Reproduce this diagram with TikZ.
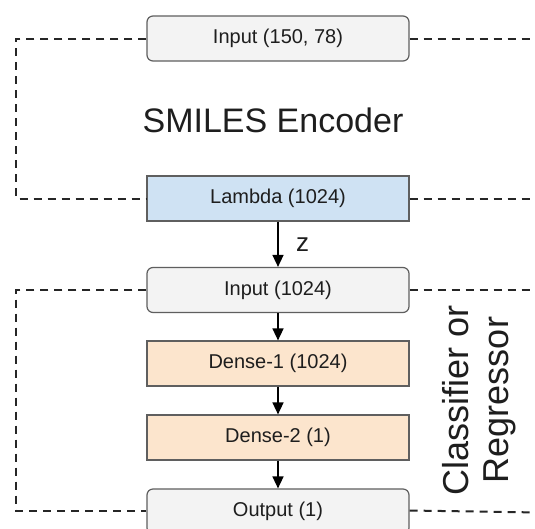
\documentclass[tikz,border=0pt]{standalone}
\usepackage{fontspec}
\setmainfont{Liberation Sans}
\usetikzlibrary{arrows.meta}
\definecolor{boxline}{HTML}{5F5F5F}
\definecolor{grayfill}{HTML}{F3F3F3}
\definecolor{bluefill}{HTML}{CFE2F3}
\definecolor{orangefill}{HTML}{FCE5CD}
\definecolor{ink}{HTML}{1E1E1E}
\tikzset{
  layer/.style={draw=boxline, line width=1.2pt, minimum width=262pt, minimum height=45pt,
    inner sep=0pt, text=ink, font=\fontsize{20}{22}\selectfont},
  iobox/.style={layer, fill=grayfill, rounded corners=6pt},
  latentbox/.style={layer, fill=bluefill},
  densebox/.style={layer, fill=orangefill},
  flow/.style={line width=1.5pt, -{Triangle[length=12pt,width=11pt]}},
  frame/.style={line width=2pt, draw=black!85, dash pattern=on 8pt off 6pt}
}
\begin{document}
\begin{tikzpicture}[x=1pt,y=-1pt]
\useasboundingbox (0,0) rectangle (535,528);
\clip (0,0) rectangle (535,528);
\fill[white] (0,0) rectangle (535,528);

% encoder part
\node[iobox] (smin) at (278,38.5) {Input (150, 78)};
\node[latentbox] (lam) at (278,198.5) {Lambda (1024)};
\node[font=\fontsize{34}{36}\selectfont, text=ink] (enc) at (273,120) {SMILES Encoder};

% predictor part
\node[iobox] (pin) at (278,290) {Input (1024)};
\node[densebox] (d1) at (278,363.5) {Dense-1 (1024)};
\node[densebox] (d2) at (278,437.5) {Dense-2 (1)};
\node[iobox] (out) at (278,511.5) {Output (1)};
\node[rotate=90, align=center, text=ink, font=\fontsize{36}{40}\selectfont] (cr) at (479,400) {Classifier or\\Regressor};

% forward connections
\draw[flow] (lam) -- node[right=14pt, pos=0.5, font=\fontsize{26}{28}\selectfont, text=ink] (zlab) {z} (pin);
\draw[flow] (pin) -- (d1);
\draw[flow] (d1) -- (d2);
\draw[flow] (d2) -- (out);

% dashed group frames
\coordinate (encL) at (16,38.5);
\coordinate (encR1) at (540,38.5);
\coordinate (encR2) at (540,198.5);
\coordinate (preL) at (16,290);
\coordinate (preR1) at (540,290);
\coordinate (preR2) at (540,512.5);
\draw[frame] (smin.west) -- (encL) |- (lam.west);
\draw[frame] (smin.east) -- (encR1);
\draw[frame] (lam.east) -- (encR2);
\draw[frame] (pin.west) -- (preL) |- ([yshift=1pt]out.west);
\draw[frame] (pin.east) -- (preR1);
\draw[frame] ([yshift=1pt]out.east) -- (preR2);
\end{tikzpicture}
\end{document}
